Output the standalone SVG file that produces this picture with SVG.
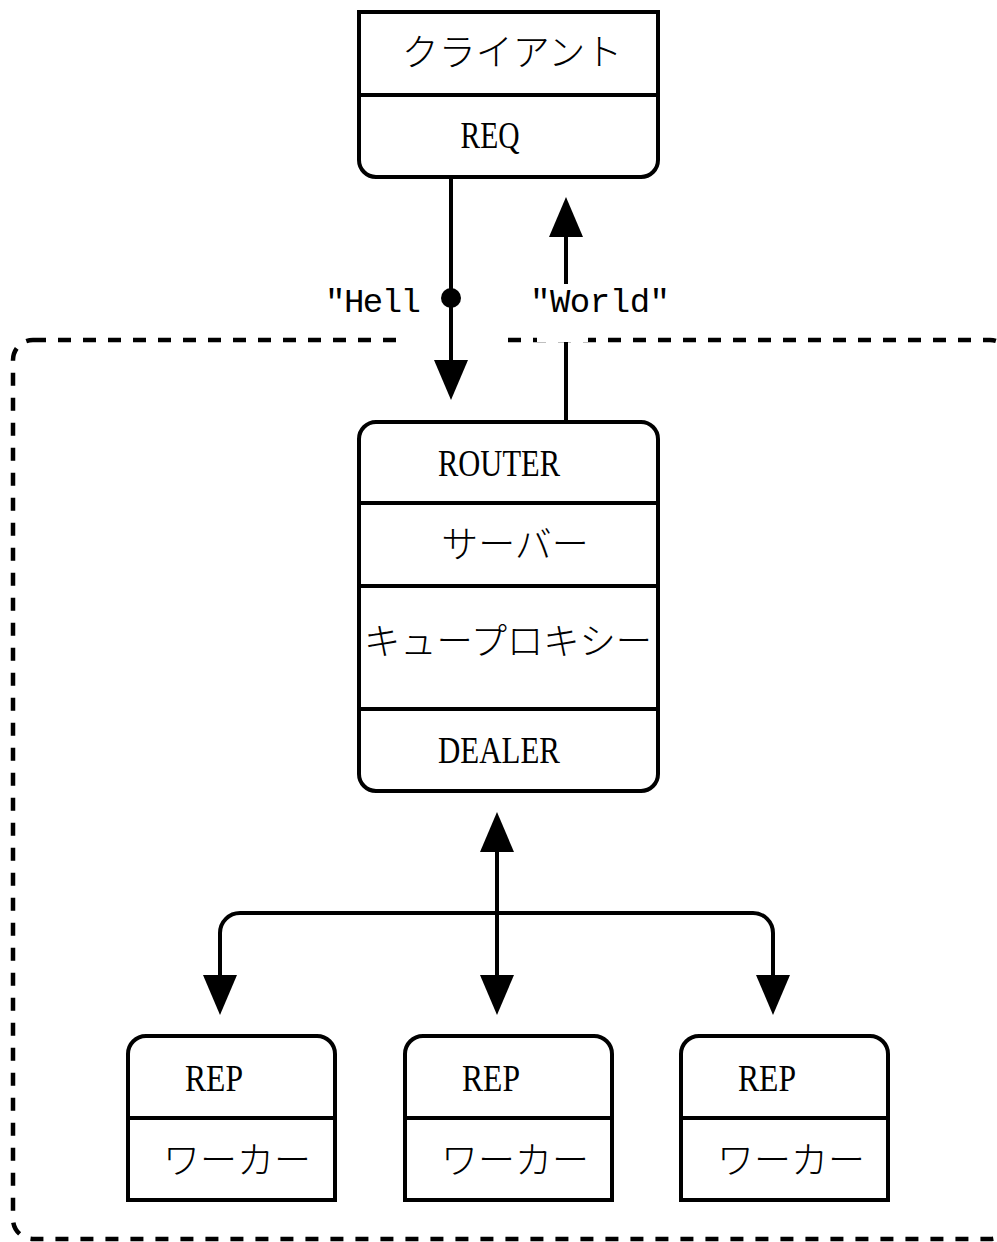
<svg xmlns="http://www.w3.org/2000/svg" width="997" height="1242" viewBox="0 0 997 1242">
  <style>
    .box { fill: #ffffff; stroke: #000000; stroke-width: 4; }
    .div { stroke: #000000; stroke-width: 4; fill: none; }
    .tag { font-family: "Liberation Serif", "DejaVu Serif", serif; font-size: 37px; fill: #000000; }
    .msg { font-family: "Liberation Mono", "Liberation Serif", serif; font-size: 34px; fill: #000000; }
    .jp { font-family: "Noto Sans CJK JP", "Noto Sans", sans-serif; font-weight: 300; font-size: 37px; fill: #000000; }
    .wire { stroke: #000000; stroke-width: 4; fill: none; }
    .frame { fill: none; stroke: #000000; stroke-width: 4.5; stroke-dasharray: 13 12; }
  </style>
  <defs>
    <marker id="arrow" markerUnits="userSpaceOnUse" markerWidth="40" markerHeight="34" refX="0" refY="17" orient="auto-start-reverse" viewBox="0 0 40 34">
      <path d="M0,0 L40,17 L0,34 Z" fill="#000000"/>
    </marker>
  </defs>

  <rect width="997" height="1242" fill="#ffffff"/>

  <!-- dashed proxy boundary -->
  <rect id="boundary" class="frame" x="13" y="340" width="997" height="899" rx="20" ry="20"/>

  <!-- client -->
  <g id="client">
    <path class="box" d="M359 12 H658 V160 A17 17 0 0 1 641 177 H376 A17 17 0 0 1 359 160 Z"/>
    <line class="div" x1="359" y1="95" x2="658" y2="95"/>
    <text class="jp" x="512" y="66" text-anchor="middle">クライアント</text>
    <text class="tag" x="490" y="148" text-anchor="middle" textLength="59" lengthAdjust="spacingAndGlyphs">REQ</text>
  </g>

  <!-- proxy / queue -->
  <g id="proxy">
    <rect class="box" x="359" y="422" width="299" height="369" rx="17" ry="17"/>
    <line class="div" x1="359" y1="503" x2="658" y2="503"/>
    <line class="div" x1="359" y1="586" x2="658" y2="586"/>
    <line class="div" x1="359" y1="709" x2="658" y2="709"/>
    <text class="tag" x="499" y="476" text-anchor="middle" textLength="122" lengthAdjust="spacingAndGlyphs">ROUTER</text>
    <text class="jp" x="515" y="558" text-anchor="middle">サーバー</text>
    <text class="jp" x="508" y="655" text-anchor="middle" textLength="288" lengthAdjust="spacingAndGlyphs">キュープロキシー</text>
    <text class="tag" x="499" y="763" text-anchor="middle" textLength="122" lengthAdjust="spacingAndGlyphs">DEALER</text>
  </g>

  <!-- workers -->
  <g id="worker1">
    <path class="box" d="M128 1200 V1054 A18 18 0 0 1 146 1036 H317 A18 18 0 0 1 335 1054 V1200 Z"/>
    <line class="div" x1="128" y1="1118" x2="335" y2="1118"/>
    <text class="tag" x="214" y="1091" text-anchor="middle" textLength="58" lengthAdjust="spacingAndGlyphs">REP</text>
    <text class="jp" x="237" y="1174" text-anchor="middle">ワーカー</text>
  </g>
  <g id="worker2">
    <path class="box" d="M405 1200 V1054 A18 18 0 0 1 423 1036 H594 A18 18 0 0 1 612 1054 V1200 Z"/>
    <line class="div" x1="405" y1="1118" x2="612" y2="1118"/>
    <text class="tag" x="491" y="1091" text-anchor="middle" textLength="58" lengthAdjust="spacingAndGlyphs">REP</text>
    <text class="jp" x="515" y="1174" text-anchor="middle">ワーカー</text>
  </g>
  <g id="worker3">
    <path class="box" d="M681 1200 V1054 A18 18 0 0 1 699 1036 H870 A18 18 0 0 1 888 1054 V1200 Z"/>
    <line class="div" x1="681" y1="1118" x2="888" y2="1118"/>
    <text class="tag" x="767" y="1091" text-anchor="middle" textLength="58" lengthAdjust="spacingAndGlyphs">REP</text>
    <text class="jp" x="791" y="1174" text-anchor="middle">ワーカー</text>
  </g>

  <!-- connectors -->
  <g id="connectors">
    <!-- request: client to router -->
    <rect x="405" y="330" width="92" height="14" fill="#ffffff"/>
    <path class="wire" d="M451 179 V360" marker-end="url(#arrow)"/>
    <circle cx="451" cy="298" r="10" fill="#000000"/>
    <text class="msg" x="325" y="312" textLength="96" lengthAdjust="spacing">"Hell</text>

    <!-- reply: router to client -->
    <path class="wire" d="M566 421 V237" marker-end="url(#arrow)"/>
    <rect x="537" y="284" width="51" height="58" fill="#ffffff"/>
    <text class="msg" x="530" y="312" textLength="140" lengthAdjust="spacing">"World"</text>

    <!-- dealer fan-out to workers -->
    <path class="wire" d="M497 852 V975" marker-start="url(#arrow)" marker-end="url(#arrow)"/>
    <path class="wire" d="M497 913 H240 A20 20 0 0 0 220 933 V975" marker-end="url(#arrow)"/>
    <path class="wire" d="M497 913 H753 A20 20 0 0 1 773 933 V975" marker-end="url(#arrow)"/>
  </g>
</svg>
